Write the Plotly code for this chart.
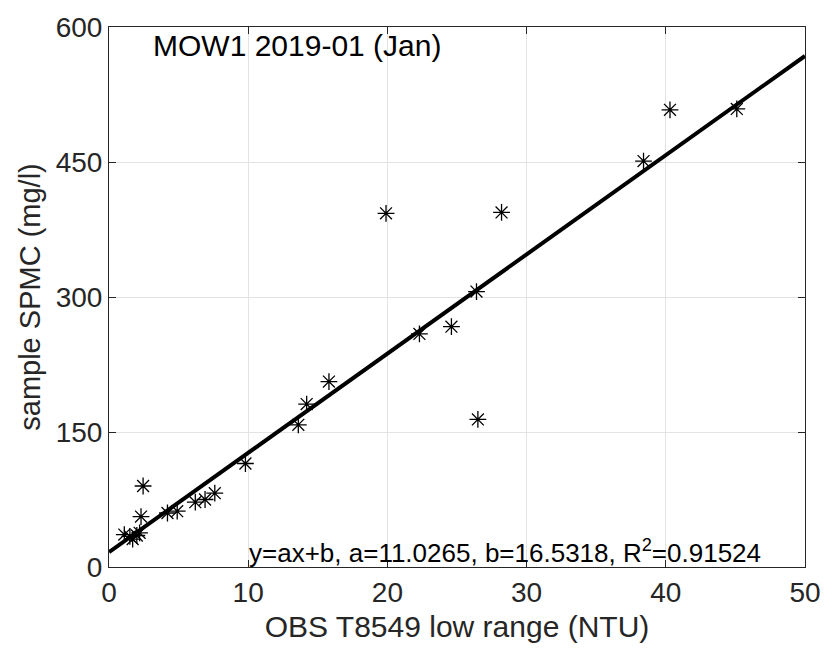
import plotly.graph_objects as go

obs_ntu = [1.1, 1.5, 1.7, 2.0, 2.2, 2.3, 2.45, 4.2, 4.9, 6.2, 6.9, 7.6, 9.8,
           13.6, 14.2, 15.8, 19.9, 22.3, 24.6, 26.4, 26.5, 28.2, 38.4, 40.3, 45.1]
spmc = [36, 34, 31, 35, 38, 56, 90, 60, 62, 72, 75, 82, 115,
        158, 181, 206, 393, 259, 267, 306, 164, 394, 451, 508, 509]

a_coef = 11.0265
b_coef = 16.5318
r2 = 0.91524
fit_x = [0, 50]
fit_y = [a_coef * v + b_coef for v in fit_x]

x_ticks = [0, 10, 20, 30, 40, 50]
y_ticks = [0, 150, 300, 450, 600]

font = "Liberation Sans, Arial, sans-serif"

fig = go.Figure()
fig.add_trace(go.Scatter(x=fit_x, y=fit_y, mode="lines",
                         line=dict(color="black", width=4), showlegend=False))
fig.add_trace(go.Scatter(x=obs_ntu, y=spmc, mode="markers",
                         marker=dict(symbol="asterisk-open", size=14, color="black",
                                     line=dict(color="black", width=1.3)),
                         showlegend=False))

axis_common = dict(showline=True, linecolor="#262626", linewidth=1, mirror="ticks",
                   ticks="inside", ticklen=7, tickcolor="#262626",
                   showgrid=True, gridcolor="#e3e3e3", gridwidth=1, zeroline=False,
                   tickfont=dict(family=font, size=28, color="#262626"))

fig.update_layout(
    width=833, height=655,
    margin=dict(l=109, r=21, t=18, b=88),
    paper_bgcolor="white", plot_bgcolor="white",
    xaxis=dict(range=[0, 50], tickvals=x_ticks, **axis_common,
               title=dict(text="OBS T8549 low range (NTU)", standoff=9,
                          font=dict(family=font, size=30, color="#262626"))),
    yaxis=dict(range=[0, 600], tickvals=y_ticks, **axis_common,
               title=dict(text="sample SPMC (mg/l)", standoff=6,
                          font=dict(family=font, size=29, color="#262626"))),
    annotations=[
        dict(x=3, y=580, xref="x", yref="y", text="MOW1 2019-01 (Jan)",
             showarrow=False, xanchor="left", yanchor="middle",
             font=dict(family=font, size=30, color="black")),
        dict(x=9.9, y=17, xref="x", yref="y",
             text=f"y=ax+b, a={a_coef}, b={b_coef}, R<sup>2</sup>={r2}",
             showarrow=False, xanchor="left", yanchor="middle",
             font=dict(family=font, size=26, color="black")),
    ],
)

fig.write_html("out.html")
